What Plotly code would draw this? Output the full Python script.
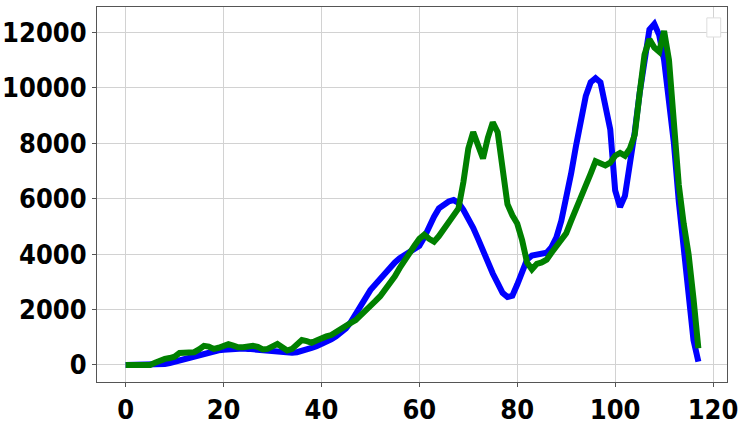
#!/usr/bin/python3

import plotly.graph_objects as go

# day index
days = list(range(118))

# series values
blue = [0, 0, 0, 0, 0, 0, 0, 10, 30, 70,
        120, 160, 210, 270, 320, 380, 430, 470, 500, 530,
        550, 570, 580, 590, 590, 580, 560, 540, 520, 500,
        480, 460, 450, 440, 440, 460, 500, 560, 620, 680,
        750, 830, 920, 1030, 1160, 1320, 1550, 1850, 2200, 2500,
        2700, 2900, 3100, 3300, 3550, 3700, 3850, 3950, 4050, 4150,
        4300, 4600, 5000, 5350, 5650, 5800, 5900, 5950, 5850, 5600,
        5300, 4950, 4550, 4100, 3700, 3300, 2950, 2600, 2450, 2500,
        2900, 3400, 3800, 3950, 4000, 4000, 4050, 4250, 4600, 5200,
        6000, 6900, 7900, 8900, 9700, 10200, 10350, 10200, 9400, 8500,
        6300, 5700, 6100, 7200, 8400, 9800, 11000, 12100, 12300, 11900,
        11000, 9700, 8000, 5900, 4300, 2600, 900, 120]

green = [0, 0, 0, 0, 0, 0, 80, 180, 220, 250,
         300, 430, 450, 450, 460, 560, 690, 660, 580, 620,
         700, 750, 700, 640, 640, 670, 690, 650, 560, 580,
         700, 760, 640, 520, 580, 780, 900, 860, 800, 880,
         980, 1030, 1080, 1200, 1330, 1430, 1520, 1620, 1780, 1920,
         2100, 2300, 2480, 2700, 2950, 3200, 3500, 3800, 4050, 4300,
         4550, 4700, 4550, 4450, 4650, 4900, 5200, 5450, 5650, 6600,
         7800, 8400, 7900, 7450, 8200, 8750, 8400, 6900, 5800, 5400,
         5100, 4500, 3700, 3450, 3650, 3700, 3800, 4050, 4300, 4500,
         4750, 5200, 5600, 6000, 6400, 6900, 7350, 7300, 7200, 7300,
         7550, 7650, 7550, 7800, 8300, 9800, 11200, 11750, 11450, 11300,
         12050, 11000, 8600, 6500, 5100, 4000, 2400, 600]

x_ticks = [0, 20, 40, 60, 80, 100, 120]
y_ticks = [0, 2000, 4000, 6000, 8000, 10000, 12000]

fig = go.Figure()
fig.add_trace(go.Scatter(x=days, y=blue, mode='lines',
                         line=dict(color='#0000ff', width=6)))
fig.add_trace(go.Scatter(x=days, y=green, mode='lines',
                         line=dict(color='#008000', width=6)))

axis_common = dict(
    showline=True, linecolor='#555555', linewidth=1, mirror=True,
    showgrid=True, gridcolor='#d2d2d2', gridwidth=1,
    zeroline=False, automargin=False,
    ticks='outside', ticklen=4, tickcolor='#555555',
    tickfont=dict(family='DejaVu Sans Condensed, DejaVu Sans', size=27,
                  color='black', weight='bold'),
)

fig.update_xaxes(range=[-5.85, 122.85], tickvals=x_ticks,
                 ticktext=[str(v) for v in x_ticks], **axis_common)
fig.update_yaxes(range=[-615, 12915], tickvals=y_ticks,
                 ticktext=[str(v) for v in y_ticks], **axis_common)

# empty legend box, as in the reference
fig.add_shape(type='rect', xref='paper', yref='paper',
              x0=0.968, x1=0.990, y0=0.92, y1=0.971,
              line=dict(color='#dddddd', width=1), fillcolor='white')

fig.update_layout(
    width=747, height=425,
    margin=dict(l=97, r=20, t=7, b=43),
    plot_bgcolor='white', paper_bgcolor='white',
    showlegend=False,
)

# drop the page's default body margin so the figure sits at 0,0
fig.write_html("out.html", config={'displayModeBar': False},
               post_script="document.body.style.margin='0px';")
